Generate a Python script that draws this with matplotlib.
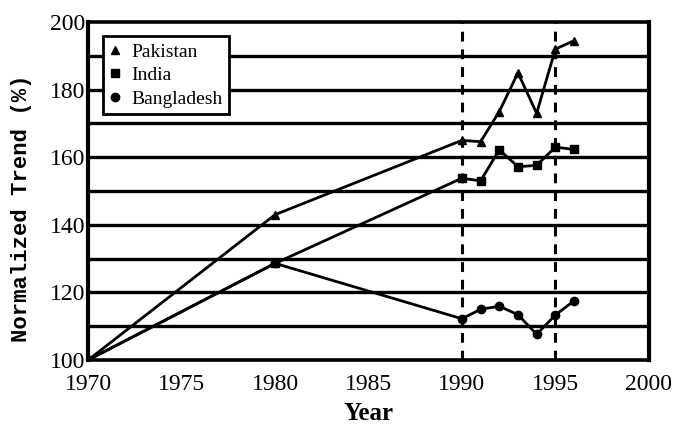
import matplotlib
matplotlib.use("Agg")
import matplotlib.pyplot as plt

# Trend values normalized to 1970 = 100
years_early = [1970, 1980]
years_recent = [1990, 1991, 1992, 1993, 1994, 1995, 1996]

pakistan = [100, 143, 165, 164.6, 173.5, 185, 173, 192, 194.5]
india = [100, 128.6, 153.8, 153, 162.2, 157.2, 157.6, 163, 162.3]
bangladesh = [100, 128.6, 112.2, 115, 115.9, 113.4, 107.6, 113.3, 117.5]

years = years_early + years_recent
series = [
    ("Pakistan", pakistan, "^"),
    ("India", india, "s"),
    ("Bangladesh", bangladesh, "o"),
]

plt.rcParams["font.family"] = "Liberation Serif"

fig = plt.figure(figsize=(6.73, 4.25), dpi=100)
ax = fig.add_axes([0.131, 0.153, 0.833, 0.795])

# Horizontal grid every 10 %
for level in range(110, 200, 10):
    ax.axhline(level, color="black", lw=2.4, zorder=1)

# Period markers
for yr in (1990, 1995):
    ax.axvline(yr, color="black", lw=2.2, ls=(0, (3.2, 2.6)), zorder=1)

for name, vals, mk in series:
    ax.plot(years, vals, color="black", lw=2, marker=mk, markersize=6,
            label=name, zorder=3)

ax.set_xlim(1970, 2000)
ax.set_ylim(100, 200)
ax.set_xticks(range(1970, 2001, 5))
ax.set_yticks(range(100, 201, 20))
ax.tick_params(axis="both", labelsize=17, direction="in", length=0)
ax.tick_params(axis="x", pad=10)
ax.tick_params(axis="y", pad=2)

for side in ("left", "right"):
    ax.spines[side].set_linewidth(3)
for side in ("top", "bottom"):
    ax.spines[side].set_linewidth(2.6)

ax.set_xlabel("Year", fontsize=18, fontweight="bold", labelpad=5)
ax.set_ylabel("Normalized Trend (%)", fontsize=16, fontweight="bold",
              family="Liberation Mono", labelpad=10)
ax.yaxis.set_label_coords(-0.1, 0.45)

leg = ax.legend(loc="upper left", bbox_to_anchor=(0.026, 0.958), fontsize=14,
                frameon=True, fancybox=False, framealpha=1, edgecolor="black",
                handlelength=0.6, handletextpad=0.5, borderpad=0.35,
                labelspacing=0.3, borderaxespad=0)
leg.get_frame().set_linewidth(2)
for h in leg.legend_handles:
    h.set_linestyle("None")

fig.savefig("out.png", dpi=100)
